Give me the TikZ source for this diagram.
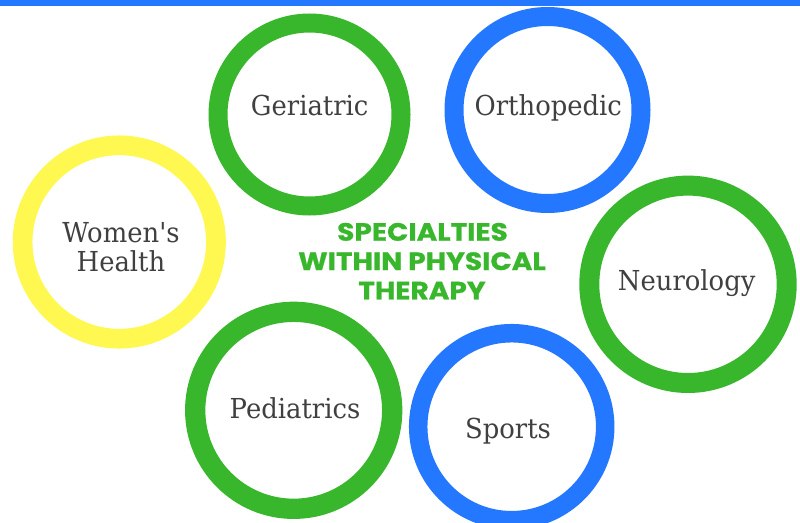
\documentclass[tikz,border=0pt]{standalone}
\usepackage{fontspec}
\newfontfamily\labelfont[FakeStretch=0.94]{DejaVu Serif}
\newfontfamily\titlefont[FakeStretch=1.12,FakeBold=0.8]{Poppins}
\definecolor{ptgreen}{HTML}{38B72C}
\definecolor{ptblue}{HTML}{2477FF}
\definecolor{ptyellow}{HTML}{FFF850}
\definecolor{ptgray}{HTML}{404040}
\begin{document}
\begin{tikzpicture}[x=1pt,y=-1pt,
  ring/.style={circle, inner sep=0pt, outer sep=0pt},
  lbl/.style={anchor=base, inner sep=0pt, text=ptgray, font=\labelfont\fontsize{27.5}{28}\selectfont},
  ttl/.style={anchor=base, inner sep=0pt, text=ptgreen, font=\titlefont\bfseries\fontsize{25}{29}\selectfont}]
\useasboundingbox (0,0) rectangle (800,522);
\fill[white] (0,0) rectangle (800,522);
\fill[ptblue] (0,0) rectangle (800,6);
% rings
\node[ring, draw=ptgreen, line width=19pt, minimum size=183pt] (ger) at (309.5,114.5) {};
\node[ring, draw=ptblue, line width=19pt, minimum size=187pt] (ort) at (547.5,110) {};
\node[ring, draw=ptyellow, line width=19.7pt, minimum size=193.4pt] (wom) at (119.3,242) {};
\node[ring, draw=ptgreen, line width=20pt, minimum size=197.4pt] (neu) at (688,284.3) {};
\node[ring, draw=ptgreen, line width=20.3pt, minimum size=197pt] (ped) at (293.7,410.3) {};
\node[ring, draw=ptblue, line width=18.5pt, minimum size=187pt] (spo) at (511.7,426.7) {};
% labels
\node[lbl] (tger) at (309.7,115) {Geriatric};
\node[lbl] (tort) at (548.3,115) {Orthopedic};
\node[lbl] (twom1) at (121,242.7) {Women's};
\node[lbl] (twom2) at (121,271) {Health};
\node[lbl] (tneu) at (686.7,290.7) {Neurology};
\node[lbl] (tped) at (295,418.3) {Pediatrics};
\node[lbl] (tspo) at (508,438.3) {Sports};
% title
\node[ttl] (t1) at (422.5,240.7) {SPECIALTIES};
\node[ttl] (t2) at (422,270) {WITHIN PHYSICAL};
\node[ttl] (t3) at (422,299.3) {THERAPY};
\end{tikzpicture}
\end{document}
